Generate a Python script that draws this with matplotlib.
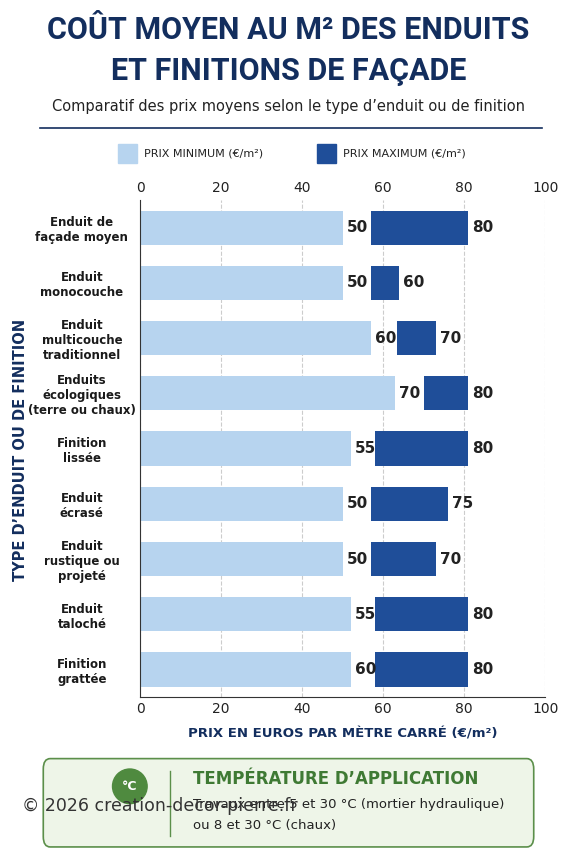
import matplotlib
matplotlib.use("Agg")
import matplotlib.pyplot as plt
from matplotlib.patches import FancyBboxPatch, Rectangle, Ellipse

categories = [
    "Enduit de\nfaçade moyen", "Enduit\nmonocouche", "Enduit\nmulticouche\ntraditionnel",
    "Enduits\nécologiques\n(terre ou chaux)", "Finition\nlissée", "Enduit\nécrasé",
    "Enduit\nrustique ou\nprojeté", "Enduit\ntaloché", "Finition\ngrattée",
]
min_labels = [50, 50, 60, 70, 55, 50, 50, 55, 60]
max_labels = [80, 60, 70, 80, 80, 75, 70, 80, 80]
# bar extents as drawn in the reference
min_bar_end = [50, 50, 57, 63, 52, 50, 50, 52, 52]
max_bar_start = [57, 57, 63.5, 70, 58, 57, 57, 58, 58]
max_bar_end = [81, 64, 73, 81, 81, 76, 73, 81, 81]

light = "#b7d4ef"
dark = "#1f4e99"
navy = "#132e5e"

fig = plt.figure(figsize=(5.77, 8.66), dpi=100)
fig.patch.set_facecolor("white")

fig.text(0.5, 0.965, "COÛT MOYEN AU M² DES ENDUITS", ha="center", va="center",
         fontsize=22, fontweight="bold", color=navy, family="Roboto")
fig.text(0.5, 0.918, "ET FINITIONS DE FAÇADE", ha="center", va="center",
         fontsize=22, fontweight="bold", color=navy, family="Roboto")
fig.text(0.5, 0.877, "Comparatif des prix moyens selon le type d’enduit ou de finition",
         ha="center", va="center", fontsize=10.5, color="#222222")
fig.add_artist(plt.Line2D([0.07, 0.94], [0.852, 0.852], color=navy, lw=1.2))

# legend
fig.add_artist(Rectangle((0.205, 0.812), 0.033, 0.022, color=light, transform=fig.transFigure))
fig.text(0.25, 0.823, "PRIX MINIMUM (€/m²)", va="center", fontsize=8, color="#222222")
fig.add_artist(Rectangle((0.55, 0.812), 0.033, 0.022, color=dark, transform=fig.transFigure))
fig.text(0.595, 0.823, "PRIX MAXIMUM (€/m²)", va="center", fontsize=8, color="#222222")

ax = fig.add_axes([0.243, 0.195, 0.702, 0.574])
y = list(range(len(categories)))
h = 0.62
ax.barh(y, min_bar_end, height=h, color=light)
widths = [e - s for s, e in zip(max_bar_start, max_bar_end)]
ax.barh(y, widths, left=max_bar_start, height=h, color=dark)
for i in y:
    ax.text(min_bar_end[i] + 1, i, str(min_labels[i]), va="center", fontsize=11,
            fontweight="bold", color="#222222")
    ax.text(max_bar_end[i] + 1, i, str(max_labels[i]), va="center", fontsize=11,
            fontweight="bold", color="#222222")

ax.set_xlim(0, 100)
ax.set_ylim(len(categories) - 0.5, -0.5)
ax.set_yticks(y)
ax.set_yticklabels(categories, fontsize=8.5, fontweight="bold", color="#1a1a1a",
                   ha="center", multialignment="center")
ax.tick_params(axis="y", length=0, pad=42)
ax.set_xticks(range(0, 101, 20))
ax.tick_params(axis="x", top=True, labeltop=True, labelsize=10, length=0, colors="#222222")
ax.grid(axis="x", linestyle="--", color="#cccccc", lw=0.8)
ax.set_axisbelow(True)
for s in ["top", "right"]:
    ax.spines[s].set_visible(False)
ax.spines["left"].set_color("#333333")
ax.spines["bottom"].set_color("#333333")
ax.set_xlabel("PRIX EN EUROS PAR MÈTRE CARRÉ (€/m²)", fontsize=9.5, fontweight="bold",
              color=navy, labelpad=8)
fig.text(0.035, 0.48, "TYPE D’ENDUIT OU DE FINITION", rotation=90, ha="center", va="center",
         fontsize=10.5, fontweight="bold", color=navy)

# bottom info box
box = FancyBboxPatch((0.075, 0.022), 0.85, 0.102, boxstyle="round,pad=0,rounding_size=0.012",
                     transform=fig.transFigure, facecolor="#eef5e8", edgecolor="#5b8f4a", lw=1.2)
fig.add_artist(box)
fig.add_artist(plt.Line2D([0.295, 0.295], [0.035, 0.11], color="#5b8f4a", lw=1))
fig.text(0.335, 0.1, "TEMPÉRATURE D’APPLICATION", fontsize=12, fontweight="bold",
         color="#3f7a34", va="center")
fig.text(0.335, 0.071, "Travaux entre 5 et 30 °C (mortier hydraulique)", fontsize=9.5,
         color="#222222", va="center")
fig.text(0.335, 0.047, "ou 8 et 30 °C (chaux)", fontsize=9.5, color="#222222", va="center")
fig.add_artist(Ellipse((0.225, 0.092), 0.06, 0.04, transform=fig.transFigure, color="#4f8a3f"))
fig.text(0.225, 0.092, "°C", ha="center", va="center", fontsize=9, fontweight="bold", color="white")
fig.text(0.038, 0.069, "© 2026 creation-decor-pierre.fr", fontsize=12.5, color="#333333", va="center")

fig.savefig("out.png", dpi=100)
